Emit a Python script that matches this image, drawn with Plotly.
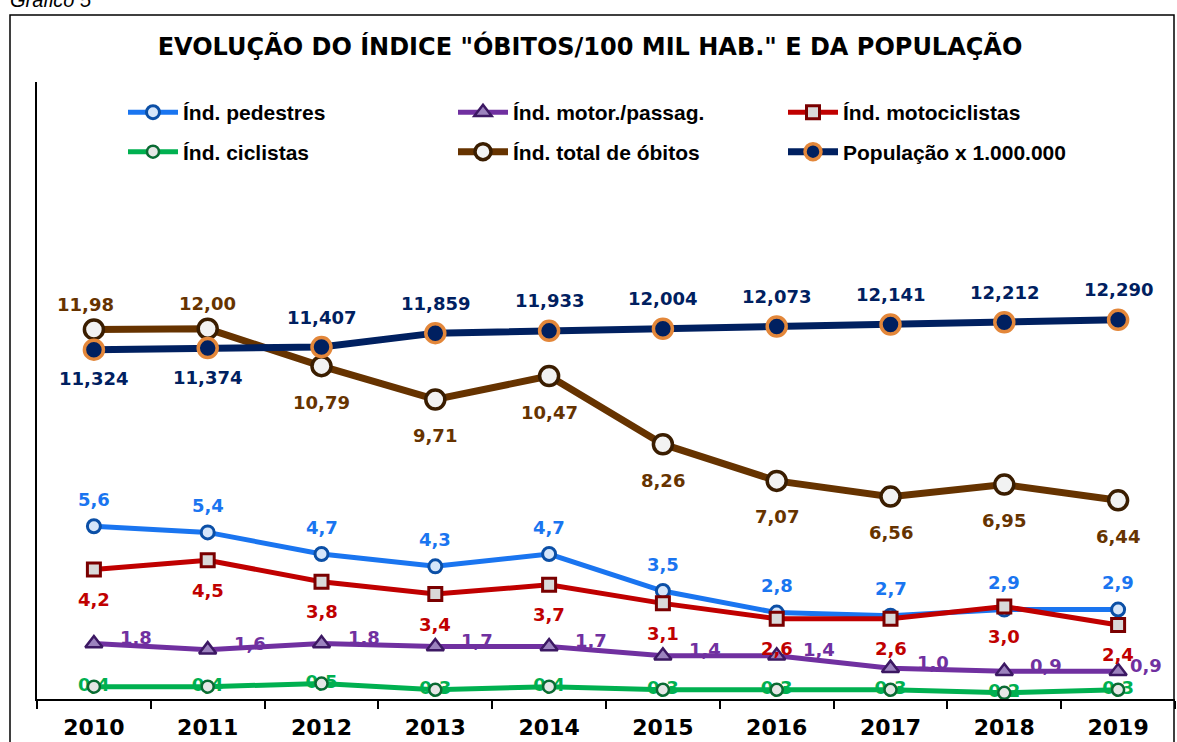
import plotly.graph_objects as go

# ---------------- data ----------------
anos = ["2010", "2011", "2012", "2013", "2014", "2015", "2016", "2017", "2018", "2019"]
pedestres = [5.6, 5.4, 4.7, 4.3, 4.7, 3.5, 2.8, 2.7, 2.9, 2.9]
motor_passag = [1.8, 1.6, 1.8, 1.7, 1.7, 1.4, 1.4, 1.0, 0.9, 0.9]
motociclistas = [4.2, 4.5, 3.8, 3.4, 3.7, 3.1, 2.6, 2.6, 3.0, 2.4]
ciclistas = [0.4, 0.4, 0.5, 0.3, 0.4, 0.3, 0.3, 0.3, 0.2, 0.3]
total_obitos = [11.98, 12.00, 10.79, 9.71, 10.47, 8.26, 7.07, 6.56, 6.95, 6.44]
populacao = [11.324, 11.374, 11.407, 11.859, 11.933, 12.004, 12.073, 12.141, 12.212, 12.290]

# ---------------- layout geometry (pixels) ----------------
W, H = 1177, 742
L, R, T, B = 37, 2, 82, 34
PW, PH = W - L - R, H - T - B


def px_x(px):
    return (px - L) / PW


def px_y(py):
    return (H - B - py) / PH


def fmt(v, d):
    return f"{v:.{d}f}".replace(".", ",")


LABEL_FONT = "DejaVu Sans"
LABEL_SIZE = 18
C_PED, C_MOTOR, C_MOTO, C_CIC, C_TOT, C_POP = "#1A75F0", "#7030A0", "#C00000", "#00B050", "#663300", "#002060"

fig = go.Figure()

# ciclistas labels (drawn first so the markers sit over them)
fig.add_trace(go.Scatter(
    x=anos, y=ciclistas, mode="text", text=[fmt(v, 1) for v in ciclistas],
    textposition="middle center", showlegend=False, hoverinfo="skip",
    textfont=dict(family=LABEL_FONT, size=LABEL_SIZE, color=C_CIC, weight="bold"),
))

fig.add_trace(go.Scatter(
    x=anos, y=ciclistas, name="Índ. ciclistas", mode="lines+markers",
    line=dict(color=C_CIC, width=5),
    marker=dict(symbol="circle", size=12, color="#E6E6E6", line=dict(color="#0A6B33", width=2.5)),
    legend="legend2", legendrank=1,
))
fig.add_trace(go.Scatter(
    x=anos, y=motor_passag, name="Índ. motor./passag.", mode="lines+markers",
    line=dict(color=C_MOTOR, width=5),
    marker=dict(symbol="triangle-up", size=15, color="#9C83BE", line=dict(color="#3C1863", width=2.5)),
    legend="legend", legendrank=2,
))
fig.add_trace(go.Scatter(
    x=anos, y=pedestres, name="Índ. pedestres", mode="lines+markers",
    line=dict(color=C_PED, width=5),
    marker=dict(symbol="circle", size=13, color="#D6E6FA", line=dict(color="#0B4FA6", width=3)),
    legend="legend", legendrank=1,
))
fig.add_trace(go.Scatter(
    x=anos, y=motociclistas, name="Índ. motociclistas", mode="lines+markers",
    line=dict(color=C_MOTO, width=5),
    marker=dict(symbol="square", size=13, color="#D9D9D9", line=dict(color="#7A0000", width=3)),
    legend="legend", legendrank=3,
))
fig.add_trace(go.Scatter(
    x=anos, y=total_obitos, name="Índ. total de óbitos", mode="lines+markers",
    line=dict(color=C_TOT, width=7),
    marker=dict(symbol="circle", size=19, color="#F2F2F2", line=dict(color="#3A1D00", width=3.5)),
    legend="legend2", legendrank=2,
))
fig.add_trace(go.Scatter(
    x=anos, y=populacao, name="População x 1.000.000", mode="lines+markers",
    line=dict(color=C_POP, width=7),
    marker=dict(symbol="circle", size=19, color=C_POP, line=dict(color="#E3873A", width=3.5)),
    legend="legend2", legendrank=3,
))

# ---------------- data labels ----------------
annotations = []


def add_labels(values, dec, color, xshifts, yshifts, xanchor="center"):
    for i, (v, xs, ys) in enumerate(zip(values, xshifts, yshifts)):
        annotations.append(dict(
            x=i, y=v, xref="x", yref="y", text=fmt(v, dec), showarrow=False,
            xshift=xs, yshift=ys, xanchor=xanchor, yanchor="middle",
            font=dict(family=LABEL_FONT, size=LABEL_SIZE, color=color, weight="bold"),
        ))


n = len(anos)
add_labels(pedestres, 1, C_PED, [0] * n, [27] * n)
add_labels(motociclistas, 1, C_MOTO, [0] * n, [-30] * n)
add_labels(motor_passag, 1, C_MOTOR, [24] * (n - 1) + [10], [6] * n, xanchor="left")
tot_above = [True, True] + [False] * (n - 2)
add_labels(total_obitos, 2, C_TOT, [-8, 0] + [0] * (n - 2), [25 if up else -36 for up in tot_above])
pop_above = [False, False] + [True] * (n - 2)
add_labels(populacao, 3, C_POP, [0] * n, [30 if up else -29 for up in pop_above])

# "Gráfico 5" caption, cut off at the top of the page
annotations.append(dict(
    x=px_x(8), y=px_y(12), xref="paper", yref="paper", xanchor="left", yanchor="bottom",
    text="<i>Gráfico 5</i>", showarrow=False,
    font=dict(family="Liberation Sans", size=20, color="black"),
))

legend_common = dict(
    orientation="h", xanchor="left", yanchor="middle",
    entrywidth=265, entrywidthmode="pixels", itemwidth=50,
    font=dict(family="Liberation Sans", size=21, color="black", weight="bold"),
    bgcolor="rgba(0,0,0,0)",
)

fig.update_layout(
    width=W, height=H,
    margin=dict(l=L, r=R, t=T, b=B),
    paper_bgcolor="white", plot_bgcolor="white",
    title=dict(
        text='EVOLUÇÃO DO ÍNDICE "ÓBITOS/100 MIL HAB." E DA POPULAÇÃO',
        x=590 / W, xanchor="center", xref="container",
        y=1 - 47 / H, yanchor="middle", yref="container",
        font=dict(family="DejaVu Sans", size=24, color="black", weight="bold"),
    ),
    xaxis=dict(
        type="category", range=[-0.5, n - 0.5], showgrid=False, zeroline=False,
        showline=True, linecolor="black", linewidth=2,
        ticks="outside", tickson="boundaries", ticklen=8, tickcolor="black", tickwidth=1.5,
        ticklabelstandoff=8,
        tickfont=dict(family="DejaVu Sans", size=22, color="black", weight="bold"),
    ),
    yaxis=dict(
        range=[0, 20], showgrid=False, zeroline=False, showticklabels=False,
        showline=True, linecolor="black", linewidth=2, ticks="",
    ),
    legend=dict(x=px_x(123), y=px_y(113), **legend_common),
    legend2=dict(x=px_x(123), y=px_y(153), **legend_common),
    annotations=annotations,
    shapes=[dict(
        type="rect", xref="paper", yref="paper",
        x0=px_x(10), x1=px_x(1174), y0=px_y(760), y1=px_y(14),
        line=dict(color="black", width=1.5), fillcolor="rgba(0,0,0,0)", layer="below",
    )],
    showlegend=True,
)

fig.write_html(
    "out.html",
    config={"displayModeBar": False},
    post_script="document.body.style.margin='0';document.body.style.overflow='hidden';",
)
